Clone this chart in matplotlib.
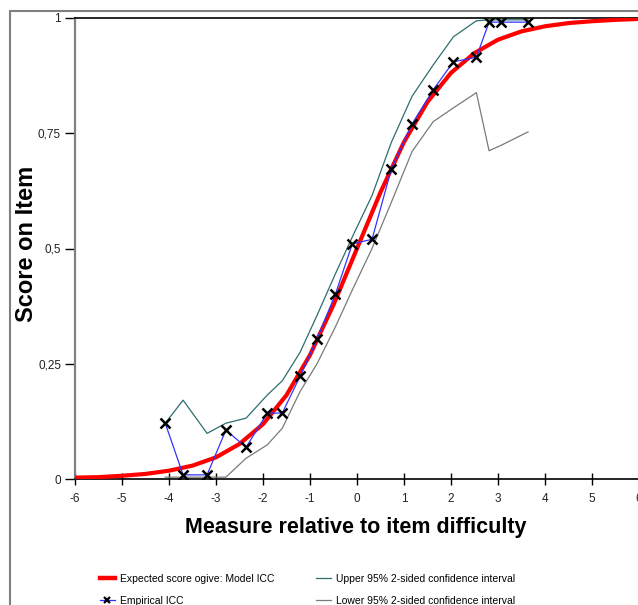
import matplotlib
matplotlib.use("Agg")
import matplotlib.pyplot as plt
from matplotlib.lines import Line2D
from matplotlib.patches import Rectangle

plt.rcParams['font.family'] = ['Liberation Sans', 'DejaVu Sans']

# model ICC (expected score ogive), read at half-logit steps
model_x = [-6, -5.5, -5, -4.5, -4, -3.5, -3, -2.5, -2, -1.5, -1, -0.5, 0,
           0.5, 1, 1.5, 2, 2.5, 3, 3.5, 4, 4.5, 5, 5.5, 6]
model_y = [0.003, 0.004, 0.007, 0.011, 0.018, 0.029, 0.047, 0.076, 0.119, 0.182,
           0.269, 0.378, 0.5, 0.622, 0.731, 0.818, 0.881, 0.924, 0.953, 0.971,
           0.982, 0.989, 0.993, 0.996, 0.998]

# empirical ICC and its 95% confidence band
emp_x = [-4.08, -3.70, -3.19, -2.79, -2.36, -1.91, -1.59, -1.21, -0.85, -0.46,
         -0.10, 0.32, 0.73, 1.17, 1.62, 2.05, 2.54, 2.81, 3.07, 3.64]
emp_y = [0.121, 0.009, 0.009, 0.106, 0.069, 0.143, 0.143, 0.223, 0.304, 0.401,
         0.510, 0.520, 0.672, 0.770, 0.844, 0.905, 0.915, 0.991, 0.991, 0.991]
upper_y = [0.121, 0.171, 0.099, 0.121, 0.132, 0.182, 0.213, 0.275, 0.355, 0.445,
           0.525, 0.615, 0.730, 0.830, 0.898, 0.959, 0.994, 0.996, 0.996, 0.996]
lower_y = [0.004, 0.004, 0.004, 0.004, 0.045, 0.074, 0.110, 0.190, 0.250, 0.330,
           0.410, 0.500, 0.600, 0.710, 0.775, 0.805, 0.838, 0.712, 0.724, 0.753]

x_ticks = [-6, -5, -4, -3, -2, -1, 0, 1, 2, 3, 4, 5, 6]
y_ticks = [0, 0.25, 0.5, 0.75, 1]
y_labels = ['0', '0,25', '0,5', '0,75', '1']

W, H = 638, 605
fig = plt.figure(figsize=(W / 100, H / 100), dpi=100)
ax = fig.add_axes([75 / W, 1 - 479 / H, (639 - 75) / W, 461 / H])

# outer frame (only its left and top edges fall inside the picture)
fig.patches.append(Rectangle((10 / W, -0.05), 1.1, 1.05 - 11 / H, transform=fig.transFigure,
                             fill=False, edgecolor='#808080', linewidth=1.5, clip_on=False))

teal = '#2e6e6e'
grey = '#7a7a7a'
ax.plot(emp_x, upper_y, color=teal, lw=0.9)
ax.plot(emp_x, lower_y, color=grey, lw=0.9)
ax.plot(model_x, model_y, color='#ff0000', lw=3.0, solid_joinstyle='round', zorder=3)
ax.plot(emp_x, emp_y, color='#3333ff', lw=0.9, zorder=4)
ax.plot(emp_x, emp_y, ls='none', marker='x', color='black', ms=6.5, mew=1.8, zorder=5)

ax.set_xlim(-6, 6)
ax.set_ylim(0, 1)
ax.set_xticks(x_ticks)
ax.set_xticklabels([str(t) for t in x_ticks])
ax.set_yticks(y_ticks)
ax.set_yticklabels(y_labels)
ax.tick_params(axis='x', direction='inout', length=8, width=1, pad=6, labelsize=8.5,
               labelcolor='#222222')
ax.tick_params(axis='y', direction='out', length=7, width=1, pad=3, labelsize=8.5,
               labelcolor='#222222')

ax.spines['right'].set_visible(False)
ax.spines['left'].set_color('#808080')
ax.spines['left'].set_linewidth(1.6)
ax.spines['top'].set_color('black')
ax.spines['top'].set_linewidth(1.2)
ax.spines['bottom'].set_color('black')
ax.spines['bottom'].set_linewidth(1.2)

fig.text(356 / W, 1 - 527 / H, 'Measure relative to item difficulty', ha='center', va='center',
         fontsize=15.5, fontweight='bold')
fig.text(27 / W, 1 - 244 / H, 'Score on Item', ha='center', va='center', rotation=90,
         fontsize=17, fontweight='bold')

# legend, two columns
h1 = [Line2D([], [], color='#ff0000', lw=3.2),
      Line2D([], [], color='#3333ff', lw=0.9, marker='x', mec='black', ms=5, mew=1.6)]
h2 = [Line2D([], [], color=teal, lw=0.9),
      Line2D([], [], color=grey, lw=0.9)]
leg_kw = dict(loc='upper left', frameon=False, fontsize=7.5, handlelength=1.4,
              handletextpad=0.5, labelspacing=1.15, borderpad=0, borderaxespad=0)
fig.legend(h1, ['Expected score ogive: Model ICC', 'Empirical ICC'],
           bbox_to_anchor=(100 / W, 1 - 574 / H), **leg_kw)
fig.legend(h2, ['Upper 95% 2-sided confidence interval', 'Lower 95% 2-sided confidence interval'],
           bbox_to_anchor=(316 / W, 1 - 574 / H), **leg_kw)

fig.savefig('out.png', dpi=100)
